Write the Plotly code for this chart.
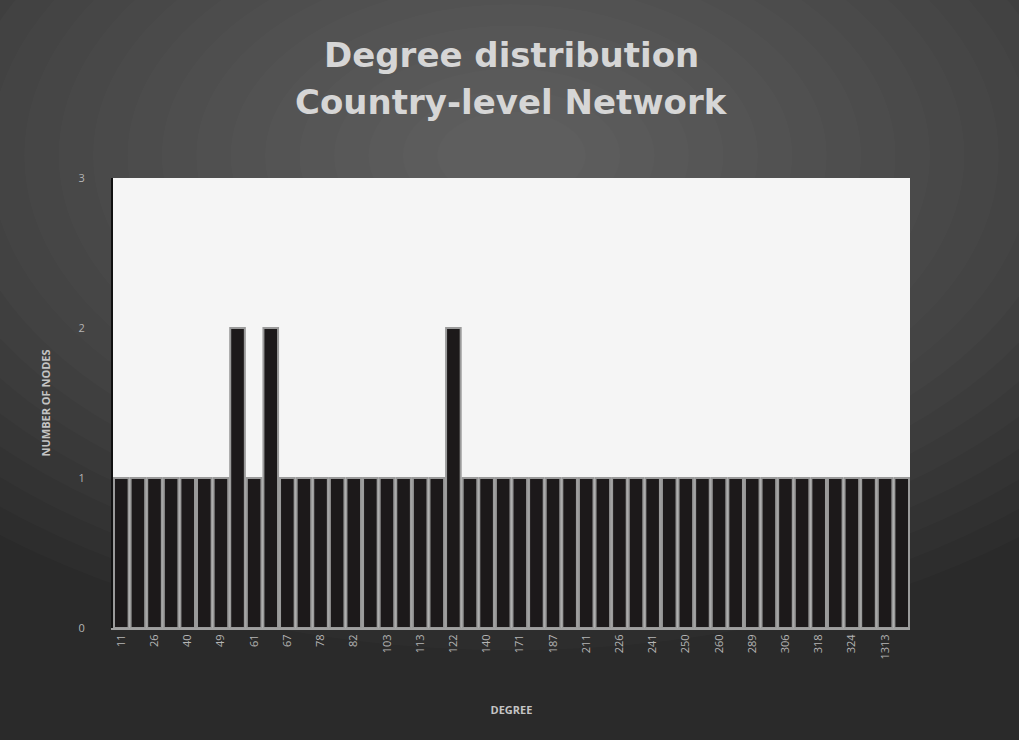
import plotly.graph_objects as go

# Degree values (sorted) and how many nodes have each degree
degrees = [11, 19, 26, 33, 40, 45, 49, 55, 61, 64, 67, 72, 78, 80, 82, 95,
           103, 108, 113, 118, 122, 131, 140, 156, 171, 179, 187, 199, 211, 218,
           226, 233, 241, 246, 250, 255, 260, 272, 289, 298, 306, 312, 318, 321,
           324, 497, 1313, 1417]
node_counts = [1, 1, 1, 1, 1, 1, 1, 2, 1, 2, 1, 1, 1, 1, 1, 1,
               1, 1, 1, 1, 2, 1, 1, 1, 1, 1, 1, 1, 1, 1,
               1, 1, 1, 1, 1, 1, 1, 1, 1, 1, 1, 1, 1, 1,
               1, 1, 1, 1]
y_ticks = [0, 1, 2, 3]

cats = [str(d) for d in degrees]
shown_ticks = cats[::2]

fig = go.Figure()
fig.add_trace(go.Bar(
    x=cats, y=node_counts,
    marker=dict(color="#1c191a", line=dict(color="#9a9a9a", width=2)),
    hoverinfo="x+y",
))

# soft radial glow behind the title area
shapes = []
n_rings = 22
for i in range(n_rings):
    f = 1 - i / n_rings
    rx = 0.95 * f + 0.05
    ry = 1.05 * f + 0.05
    shapes.append(dict(
        type="circle", xref="paper", yref="paper", layer="below",
        x0=0.5 - rx, x1=0.5 + rx, y0=1.05 - ry, y1=1.05 + ry,
        fillcolor="rgba(255,255,255,0.016)", line=dict(width=0),
    ))

title_font = dict(size=34, color="#d6d6d6", family="DejaVu Sans, sans-serif")

fig.update_layout(
    width=1019, height=740,
    margin=dict(l=113, r=109, t=178, b=112),
    paper_bgcolor="#2a2a2a",
    plot_bgcolor="#f5f5f5",
    bargap=0.12,
    showlegend=False,
    shapes=shapes,
    font=dict(family="Open Sans, sans-serif", color="#bdbdbd"),
    annotations=[
        dict(text="<b>Degree distribution</b>", xref="paper", yref="paper",
             x=0.5, y=(628 - 55) / 450, xanchor="center", yanchor="middle",
             showarrow=False, font=title_font),
        dict(text="<b>Country-level Network</b>", xref="paper", yref="paper",
             x=0.5, y=(628 - 102) / 450, xanchor="center", yanchor="middle",
             showarrow=False, font=title_font),
    ],
)

fig.update_xaxes(
    type="category", tickmode="array", tickvals=shown_ticks, ticktext=shown_ticks,
    tickangle=-90, tickfont=dict(size=11, color="#b5b5b5"),
    showgrid=False, showline=True, linecolor="#a0a0a0", linewidth=2,
    ticks="", title=dict(text="<b>DEGREE</b>", font=dict(size=11, color="#c4c4c4"), standoff=48),
)
fig.update_yaxes(
    range=[0, 3], tickvals=y_ticks, tickfont=dict(size=11, color="#b5b5b5"),
    showgrid=False, zeroline=False, showline=True, linecolor="#111111", linewidth=2,
    ticks="", ticklabelstandoff=24,
    title=dict(text="<b>NUMBER OF NODES</b>", font=dict(size=11, color="#c4c4c4"), standoff=26),
)

fig.write_html("out.html")
